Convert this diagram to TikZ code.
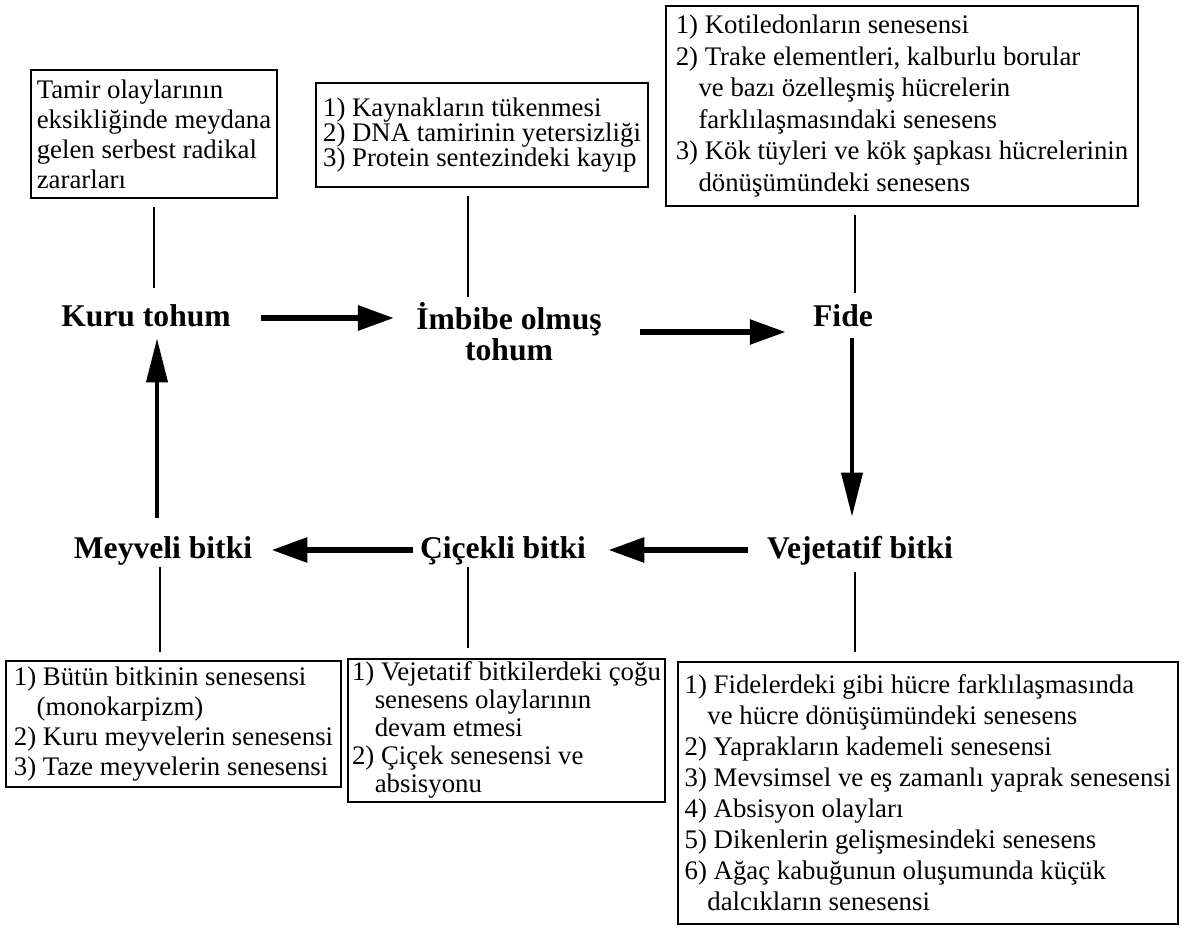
\documentclass[tikz,border=0pt]{standalone}
\usepackage{fontspec}
\setmainfont{Liberation Serif}
\usetikzlibrary{arrows.meta}

\newcommand{\ind}{\hspace*{0.85em}}

\begin{document}
\begin{tikzpicture}[x=0.5pt, y=-0.5pt,
  stage/.style={font=\fontsize{15.8}{15.5}\selectfont\bfseries, inner sep=0pt,
    text height=11pt, text depth=3pt},
  stagetwo/.style={font=\fontsize{15.8}{15.5}\selectfont\bfseries, inner sep=0pt,
    align=center},
  infobox/.style={draw, line width=1pt, anchor=north west, align=left,
    inner xsep=2pt, inner ysep=3pt, font=\fontsize{13.4}{#1}\selectfont},
  infobox/.default=15.5pt,
  link/.style={line width=1pt},
  flow/.style={line width=3pt, -{Triangle[length=18pt,width=12pt]}},
  upflow/.style={line width=2pt, -{Triangle[length=22pt,width=10.5pt]}}]
  \useasboundingbox (0,0) rectangle (1187,927);

  % stages of the life cycle
  \node[stage] (kuru) at (146,318) {Kuru tohum};
  \node[stagetwo] (imbibe) at (509,332) {İmbibe olmuş\\tohum};
  \node[stage] (fide) at (843,318) {Fide};
  \node[stage] (vejetatif) at (860,550) {Vejetatif bitki};
  \node[stage] (cicekli) at (503,550) {Çiçekli bitki};
  \node[stage] (meyveli) at (163,550) {Meyveli bitki};

  % senescence boxes
  \node[infobox=15pt, minimum width=123pt, minimum height=64pt] (tamirbox) at (30,69)
    {Tamir olaylarının\\eksikliğinde meydana\\gelen serbest radikal\\zararları};
  \node[infobox=12.5pt, minimum width=166pt, minimum height=52pt] (kaynakbox) at (315,82)
    {1) Kaynakların tükenmesi\\2) DNA tamirinin yetersizliği\\3) Protein sentezindeki kayıp};
  \node[infobox=15.8pt, minimum width=236pt, minimum height=100pt] (kotbox) at (665,5)
    {1) Kotiledonların senesensi\\2) Trake elementleri, kalburlu borular\\
     \ind ve bazı özelleşmiş hücrelerin\\\ind farklılaşmasındaki senesens\\
     3) Kök tüyleri ve kök şapkası hücrelerinin\\\ind dönüşümündeki senesens};
  \node[infobox=15pt, minimum width=167.5pt, minimum height=63pt] (butunbox) at (5,660)
    {1) Bütün bitkinin senesensi\\\ind (monokarpizm)\\2) Kuru meyvelerin senesensi\\
     3) Taze meyvelerin senesensi};
  \node[infobox=14pt, inner ysep=1.5pt, minimum width=157.5pt] (vejbox) at (347,658)
    {1) Vejetatif bitkilerdeki çoğu\\\ind senesens olaylarının\\\ind devam etmesi\\
     2) Çiçek senesensi ve\\\ind absisyonu};
  \node[infobox, minimum width=250pt, minimum height=131pt] (fidelerbox) at (677,661)
    {1) Fidelerdeki gibi hücre farklılaşmasında\\\ind ve hücre dönüşümündeki senesens\\
     2) Yaprakların kademeli senesensi\\3) Mevsimsel ve eş zamanlı yaprak senesensi\\
     4) Absisyon olayları\\5) Dikenlerin gelişmesindeki senesens\\
     6) Ağaç kabuğunun oluşumunda küçük\\\ind dalcıkların senesensi};

  % cycle arrows
  \draw[flow, shorten <=15pt, shorten >=11pt] (kuru.east) -- (kuru.east -| imbibe.west);
  \draw[flow, shorten <=19pt, shorten >=13.5pt] (imbibe.east) -- (imbibe.east -| fide.west);
  \draw[flow, shorten <=9.5pt, shorten >=11pt] (vejetatif.west) -- (vejetatif.west -| cicekli.east);
  \draw[flow, shorten <=3.5pt, shorten >=9.5pt] (cicekli.west) -- (cicekli.west -| meyveli.east);
  \coordinate (fidefoot) at ([xshift=4.5pt]fide.south);
  \coordinate (meyvelitop) at ([xshift=-3pt]meyveli.north);
  \draw[upflow, shorten <=3pt, shorten >=9.5pt] (fidefoot) -- (fidefoot |- vejetatif.north);
  \draw[upflow, shorten <=9pt, shorten >=3pt] (meyvelitop) -- (meyvelitop |- kuru.south);

  % links to the boxes
  \coordinate (imbibetop) at ([xshift=-20.5pt]imbibe.north);
  \coordinate (fidetop) at ([xshift=6pt]fide.north);
  \coordinate (meyvelifoot) at ([xshift=-1.5pt]meyveli.south);
  \coordinate (ciceklifoot) at ([xshift=-17.5pt]cicekli.south);
  \coordinate (vejetatiffoot) at ([xshift=-2.5pt]vejetatif.south);
  \draw[link, shorten <=4pt, shorten >=8pt] (tamirbox.south) -- (tamirbox.south |- kuru.north);
  \draw[link, shorten <=4pt, shorten >=2.5pt] (imbibetop |- kaynakbox.south) -- (imbibetop);
  \draw[link, shorten <=4pt, shorten >=5.5pt] (fidetop |- kotbox.south) -- (fidetop);
  \draw[link, shorten <=1.5pt, shorten >=4pt] (meyvelifoot) -- (meyvelifoot |- butunbox.north);
  \draw[link, shorten <=1.5pt, shorten >=5pt] (ciceklifoot) -- (ciceklifoot |- vejbox.north);
  \draw[link, shorten <=4pt, shorten >=4.5pt] (vejetatiffoot) -- (vejetatiffoot |- fidelerbox.north);
\end{tikzpicture}
\end{document}
